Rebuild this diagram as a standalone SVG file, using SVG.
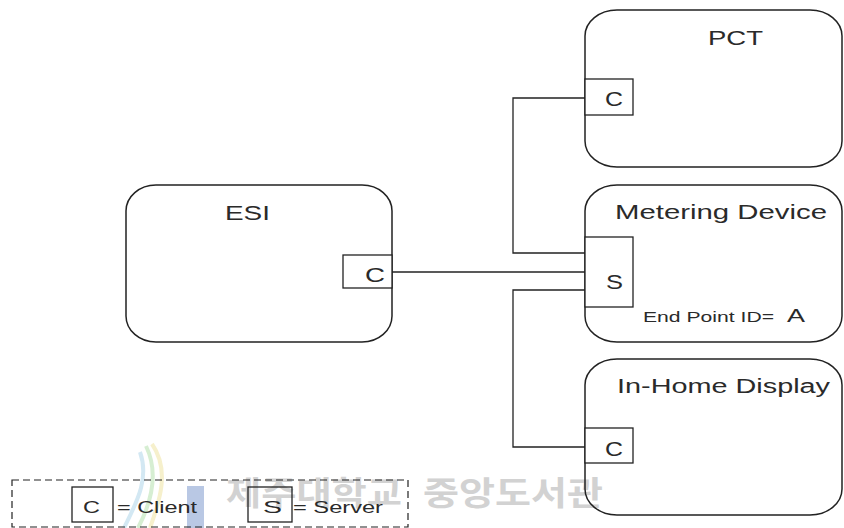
<svg xmlns="http://www.w3.org/2000/svg" width="844" height="528" viewBox="0 0 844 528">
<style>
.box{fill:none;stroke:#222;stroke-width:1.5}
.port{fill:#fff;stroke:#222;stroke-width:1.3}
.wire{fill:none;stroke:#222;stroke-width:1.3}
.lbl{font-family:"Liberation Sans",Arial,sans-serif;fill:#2a2a2a}
.wm{font-family:"Noto Sans CJK KR","Noto Sans CJK SC",sans-serif;fill:#d2d2d2;font-weight:bold}
</style>
<rect width="844" height="528" fill="#fff"/>
<g id="watermark">
<path d="M152,444 C170,470 160,500 150,528" fill="none" stroke="#f6f0cc" stroke-width="4"/>
<path d="M146,446 C160,475 150,505 138,528" fill="none" stroke="#d6eed2" stroke-width="4"/>
<path d="M140,452 C150,480 135,505 124,528" fill="none" stroke="#d3e8f3" stroke-width="4"/>
<rect x="187" y="486" width="17" height="42" fill="#b9c8e4"/>
<text class="wm" x="226" y="505" font-size="33" textLength="176" lengthAdjust="spacingAndGlyphs">제주대학교</text>
<text class="wm" x="423" y="505" font-size="33" textLength="180" lengthAdjust="spacingAndGlyphs">중앙도서관</text>
</g>
<g id="connectors">
<line class="wire" x1="392" y1="272" x2="585" y2="272"/>
<polyline class="wire" points="585,98 513,98 513,253 585,253"/>
<polyline class="wire" points="585,290 513,290 513,447 585,447"/>
</g>
<g id="esi">
<rect class="box" x="126" y="185" width="266" height="157" rx="30" ry="26"/>
<text class="lbl" x="225" y="220" font-size="21" textLength="45" lengthAdjust="spacingAndGlyphs">ESI</text>
<rect class="port" x="343" y="255" width="49" height="33"/>
<text class="lbl" x="365" y="282" font-size="21" textLength="20" lengthAdjust="spacingAndGlyphs">C</text>
</g>
<g id="pct">
<rect class="box" x="585" y="10" width="257" height="157" rx="32" ry="26"/>
<text class="lbl" x="708" y="45" font-size="21" textLength="55" lengthAdjust="spacingAndGlyphs">PCT</text>
<rect class="port" x="585" y="79" width="48" height="36"/>
<text class="lbl" x="605" y="106" font-size="21" textLength="18" lengthAdjust="spacingAndGlyphs">C</text>
</g>
<g id="metering">
<rect class="box" x="585" y="185" width="257" height="157" rx="32" ry="26"/>
<text class="lbl" x="615" y="219" font-size="20" textLength="212" lengthAdjust="spacingAndGlyphs">Metering Device</text>
<rect class="port" x="585" y="237" width="48" height="70"/>
<text class="lbl" x="606" y="289" font-size="21" textLength="17" lengthAdjust="spacingAndGlyphs">S</text>
<text class="lbl" x="643" y="322" font-size="14" textLength="131" lengthAdjust="spacingAndGlyphs">End Point ID=</text>
<text class="lbl" x="787" y="322" font-size="19" textLength="18" lengthAdjust="spacingAndGlyphs">A</text>
</g>
<g id="inhome">
<rect class="box" x="585" y="359" width="257" height="156" rx="32" ry="26"/>
<text class="lbl" x="617" y="393" font-size="20" textLength="213" lengthAdjust="spacingAndGlyphs">In-Home Display</text>
<rect class="port" x="585" y="428" width="48" height="35"/>
<text class="lbl" x="605" y="456" font-size="21" textLength="18" lengthAdjust="spacingAndGlyphs">C</text>
</g>
<g id="legend">
<rect x="12" y="480" width="396" height="47" fill="none" stroke="#222" stroke-width="1.2" stroke-dasharray="7 4"/>
<rect class="port" x="72" y="487" width="41" height="35" style="fill:none"/>
<text class="lbl" x="83" y="513" font-size="17" textLength="17" lengthAdjust="spacingAndGlyphs">C</text>
<text class="lbl" x="117" y="513" font-size="16" textLength="80" lengthAdjust="spacingAndGlyphs">= Client</text>
<rect class="port" x="248" y="487" width="44" height="35" style="fill:none"/>
<text class="lbl" x="263" y="513" font-size="17" textLength="19" lengthAdjust="spacingAndGlyphs">S</text>
<text class="lbl" x="293" y="513" font-size="16" textLength="90" lengthAdjust="spacingAndGlyphs">= Server</text>
</g>
</svg>
